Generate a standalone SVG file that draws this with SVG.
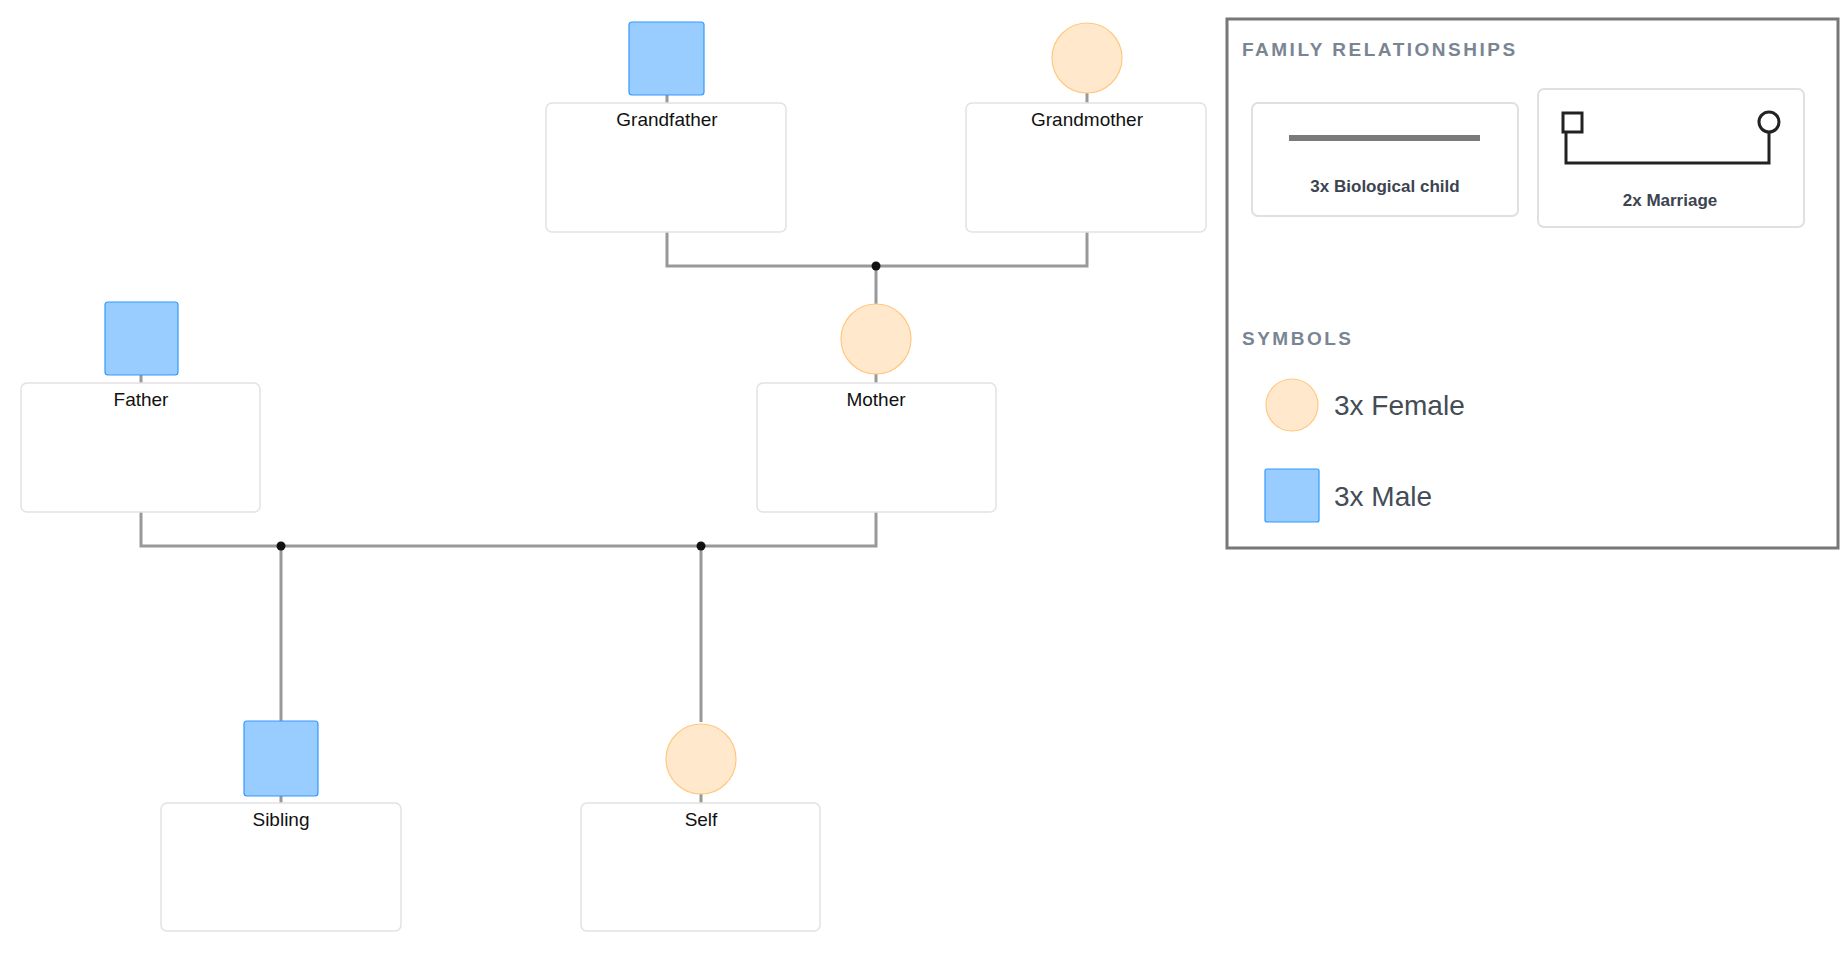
<svg xmlns="http://www.w3.org/2000/svg" width="1848" height="955" viewBox="0 0 1848 955">
<style>
.card{fill:#fff;stroke:#e2e2e2;stroke-width:1.5}
.male{fill:#99ccff;stroke:#3399ff;stroke-width:1.2}
.female{fill:#ffe8cc;stroke:#ffc880;stroke-width:1.2}
.lbl{font-family:"Liberation Sans",Arial,sans-serif;font-size:19px;fill:#111;text-anchor:middle}
.con{fill:none;stroke:#999;stroke-width:3}
.dot{fill:#111}
.h{font-family:"Liberation Sans",Arial,sans-serif;font-size:19px;font-weight:bold;fill:#7a8594;letter-spacing:2.5px}
.lt{font-family:"Liberation Sans",Arial,sans-serif;font-size:17px;font-weight:bold;fill:#3d4450;text-anchor:middle}
.st{font-family:"Liberation Sans",Arial,sans-serif;font-size:28px;fill:#444c56}
.lcard{fill:#fff;stroke:#e0e0e0;stroke-width:2}
</style>
<rect width="1848" height="955" fill="#fff"/>
<g id="connectors">
<path class="con" d="M667 95V103M1087 93V103M876 374V383M141 375V383M281 796V803M701 794V803"/>
<path class="con" d="M667 232V266H1087V232M876 266V304"/>
<path class="con" d="M141 512V546H876V512M281 546V721M701 546V722"/>
<circle class="dot" cx="876" cy="266" r="4.5"/>
<circle class="dot" cx="281" cy="546" r="4.5"/>
<circle class="dot" cx="701" cy="546" r="4.5"/>
</g>
<g id="grandfather"><rect class="card" x="546" y="103" width="240" height="129" rx="6"/><rect class="male" x="629" y="22" width="75" height="73" rx="3"/><text class="lbl" x="667" y="126">Grandfather</text></g>
<g id="grandmother"><rect class="card" x="966" y="103" width="240" height="129" rx="6"/><circle class="female" cx="1087" cy="58" r="35"/><text class="lbl" x="1087" y="126">Grandmother</text></g>
<g id="father"><rect class="card" x="21" y="383" width="239" height="129" rx="6"/><rect class="male" x="105" y="302" width="73" height="73" rx="3"/><text class="lbl" x="141" y="406">Father</text></g>
<g id="mother"><rect class="card" x="757" y="383" width="239" height="129" rx="6"/><circle class="female" cx="876" cy="339" r="35"/><text class="lbl" x="876" y="406">Mother</text></g>
<g id="sibling"><rect class="card" x="161" y="803" width="240" height="128" rx="6"/><rect class="male" x="244" y="721" width="74" height="75" rx="3"/><text class="lbl" x="281" y="826">Sibling</text></g>
<g id="self"><rect class="card" x="581" y="803" width="239" height="128" rx="6"/><circle class="female" cx="701" cy="759" r="35"/><text class="lbl" x="701" y="826">Self</text></g>
<g id="legend">
<rect x="1227" y="19" width="611" height="529" fill="#fff" stroke="#777" stroke-width="3"/>
<text class="h" x="1242" y="56">FAMILY RELATIONSHIPS</text>
<rect class="lcard" x="1252" y="103" width="266" height="113" rx="6"/>
<line x1="1289" y1="138" x2="1480" y2="138" stroke="#7a7a7a" stroke-width="6"/>
<text class="lt" x="1385" y="192">3x Biological child</text>
<rect class="lcard" x="1538" y="89" width="266" height="138" rx="6"/>
<path d="M1566 132V163H1769V131" fill="none" stroke="#222" stroke-width="3"/>
<rect x="1563" y="113" width="19" height="19" fill="#fff" stroke="#222" stroke-width="3"/>
<circle cx="1769" cy="122" r="10" fill="#fff" stroke="#222" stroke-width="3"/>
<text class="lt" x="1670" y="206">2x Marriage</text>
<text class="h" x="1242" y="345">SYMBOLS</text>
<circle class="female" cx="1292" cy="405" r="26"/>
<text class="st" x="1334" y="415">3x Female</text>
<rect class="male" x="1265" y="469" width="54" height="53" rx="2"/>
<text class="st" x="1334" y="506">3x Male</text>
</g>
</svg>
